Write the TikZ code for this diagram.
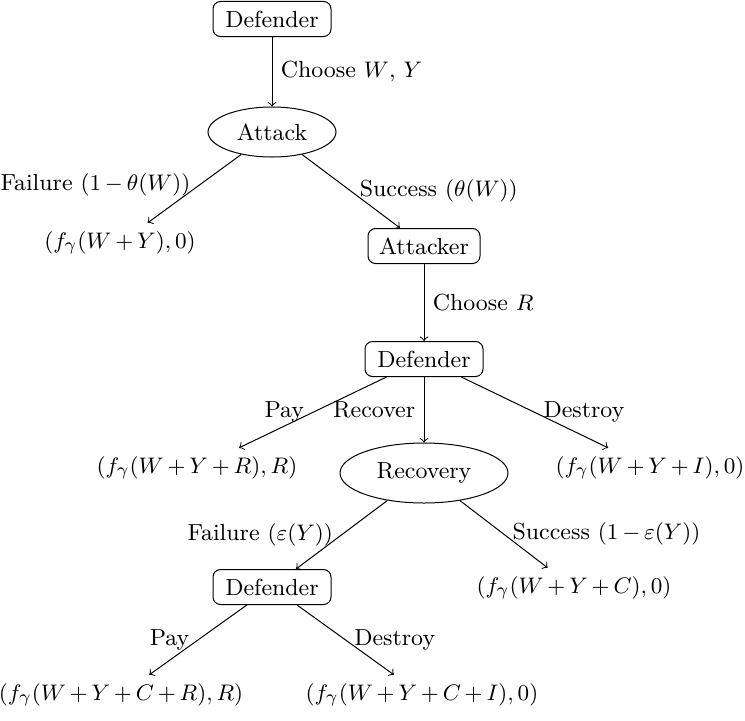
\documentclass[tikz,border=0pt]{standalone}
\usetikzlibrary{shapes.geometric}
\begin{document}
\medmuskip=3mu plus 2mu minus 3mu
\begin{tikzpicture}[x=0.4pt,y=-0.4pt,
  font=\fontsize{9.3pt}{11pt}\selectfont,
  player/.style={draw, rounded corners=3pt, inner xsep=3pt, inner ysep=3pt, minimum height=14pt},
  chance/.style={draw, ellipse, inner sep=1pt},
  payoff/.style={inner sep=3.33pt},
  arr/.style={->}]
\useasboundingbox (0,0) rectangle (745,720);
% nodes
\node[player, minimum width=47.2pt] (d1) at (272,19) {Defender};
\node[chance, minimum width=51.2pt, minimum height=20pt] (att) at (272,132) {Attack};
\node[payoff] (p1) at (120,243) {$(f_\gamma(W+Y),0)$};
\node[player, minimum width=44.8pt] (atk) at (424,246) {Attacker};
\node[player, minimum width=47.2pt] (d2) at (424,359) {Defender};
\node[payoff] (p2) at (197,468) {$(f_\gamma(W+Y+R),R)$};
\node[chance, minimum width=67.2pt, minimum height=24pt] (rec) at (424,473) {Recovery};
\node[payoff] (p3) at (650,468) {$(f_\gamma(W+Y+I),0)$};
\node[player, minimum width=47.2pt] (d3) at (272,587) {Defender};
\node[payoff] (p4) at (574,588) {$(f_\gamma(W+Y+C),0)$};
\node[payoff] (p5) at (121,695) {$(f_\gamma(W+Y+C+R),R)$};
\node[payoff] (p6) at (422,695) {$(f_\gamma(W+Y+C+I),0)$};
% edges
\draw[arr] (d1) -- node[right] {Choose $W$, $Y$} (att);
\draw[arr] (att) -- node[left, pos=0.45] {Failure $(1-\theta(W))$} (p1);
\draw[arr] (att) -- node[right] {Success $(\theta(W))$} (atk);
\draw[arr] (atk) -- node[right] {Choose $R$} (d2);
\draw[arr] (d2) -- node[left] {Pay} (p2);
\draw[arr] (d2) -- node[left] {Recover} (rec);
\draw[arr] (d2) -- node[right] {Destroy} (p3);
\draw[arr] (rec) -- node[left] {Failure $(\varepsilon(Y))$} (d3);
\draw[arr] (rec) -- node[right] {Success $(1-\varepsilon(Y))$} (p4);
\draw[arr] (d3) -- node[left] {Pay} (p5);
\draw[arr] (d3) -- node[right] {Destroy} (p6);
\end{tikzpicture}
\end{document}
